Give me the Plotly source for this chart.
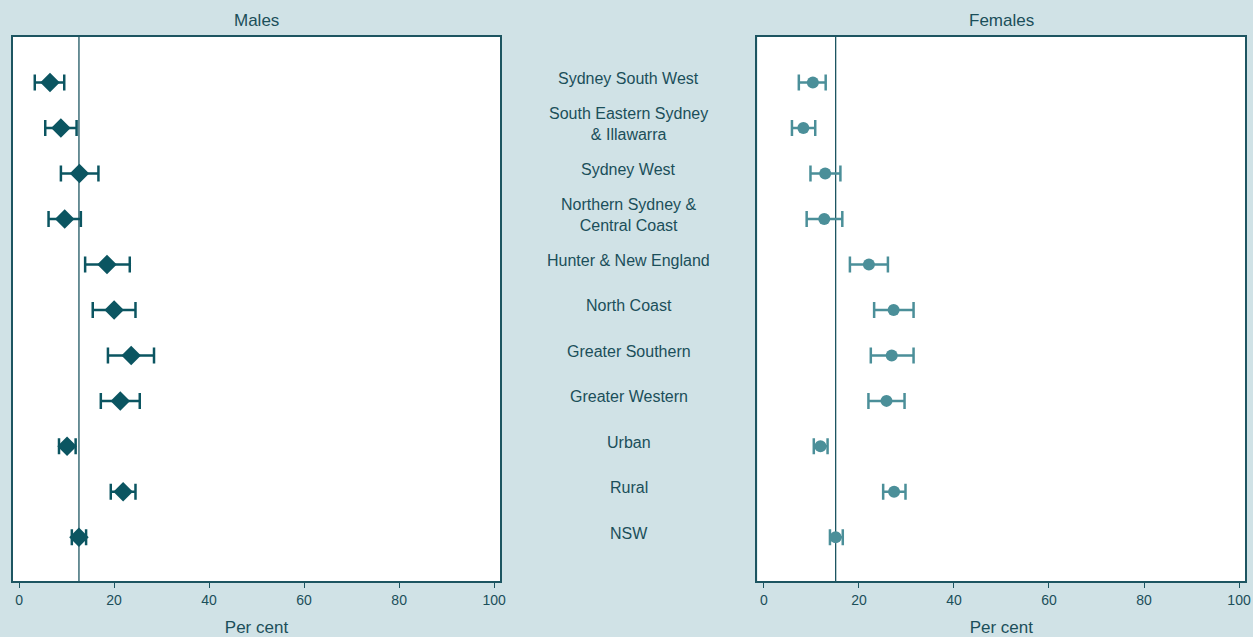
import plotly.graph_objects as go

regions = [
    "Sydney South West",
    "South Eastern Sydney<br>& Illawarra",
    "Sydney West",
    "Northern Sydney &<br>Central Coast",
    "Hunter & New England",
    "North Coast",
    "Greater Southern",
    "Greater Western",
    "Urban",
    "Rural",
    "NSW",
]

male_est = [6.5, 8.8, 12.7, 9.6, 18.5, 20.0, 23.6, 21.3, 10.1, 21.9, 12.6]
male_lo = [3.3, 5.5, 8.8, 6.2, 13.9, 15.5, 18.7, 17.2, 8.4, 19.3, 11.1]
male_hi = [9.5, 12.1, 16.7, 13.0, 23.3, 24.5, 28.4, 25.4, 11.9, 24.5, 14.1]

female_est = [10.3, 8.3, 12.9, 12.7, 22.1, 27.3, 26.9, 25.8, 11.9, 27.4, 15.1]
female_lo = [7.35, 5.9, 9.8, 9.0, 18.1, 23.2, 22.5, 22.0, 10.5, 25.1, 13.9]
female_hi = [13.0, 10.8, 16.1, 16.5, 26.1, 31.5, 31.5, 29.6, 13.4, 29.8, 16.6]

male_ref = 12.6
female_ref = 15.1

x_ticks = [0, 20, 40, 60, 80, 100]

BG = "#d0e2e6"
TXT = "#1b4f5a"
FRAME = "#1d5561"
MALE_C = "#0b5561"
FEMALE_C = "#4b8f99"
FONT = "Liberation Sans, Arial, sans-serif"

# horizontal layout in pixels, converted to paper fractions
PW = 1247.5
def px(p):
    return p / PW

rows = list(range(1, len(regions) + 1))

fig = go.Figure()

fig.add_trace(go.Scatter(
    x=male_est, y=rows, mode="markers", xaxis="x", yaxis="y",
    marker=dict(symbol="diamond", size=15, color=MALE_C),
    error_x=dict(
        type="data", symmetric=False,
        array=[h - e for h, e in zip(male_hi, male_est)],
        arrayminus=[e - l for e, l in zip(male_est, male_lo)],
        color=MALE_C, thickness=2.5, width=8,
    ),
    showlegend=False, name="Males",
))

fig.add_trace(go.Scatter(
    x=female_est, y=rows, mode="markers", xaxis="x2", yaxis="y2",
    marker=dict(symbol="circle", size=12, color=FEMALE_C),
    error_x=dict(
        type="data", symmetric=False,
        array=[h - e for h, e in zip(female_hi, female_est)],
        arrayminus=[e - l for e, l in zip(female_est, female_lo)],
        color=FEMALE_C, thickness=2.5, width=8,
    ),
    showlegend=False, name="Females",
))

# reference lines (overall rate)
fig.add_shape(type="line", xref="x", yref="y domain", x0=male_ref, x1=male_ref,
              y0=0, y1=1, line=dict(color=FRAME, width=1.3), layer="below")
fig.add_shape(type="line", xref="x2", yref="y2 domain", x0=female_ref, x1=female_ref,
              y0=0, y1=1, line=dict(color=FRAME, width=1.3), layer="below")

xaxis_common = dict(
    range=[-1.35, 101.3], tickvals=x_ticks, ticktext=[str(t) for t in x_ticks],
    ticks="outside", ticklen=5, tickwidth=1.3, tickcolor=FRAME,
    showline=True, linecolor=FRAME, linewidth=1.5, mirror=True,
    showgrid=False, zeroline=False,
    tickfont=dict(family=FONT, size=14, color=TXT),
    title=dict(text="Per cent", font=dict(family=FONT, size=17, color=TXT), standoff=15),
)
yaxis_common = dict(
    range=[11.96, 0.0], showticklabels=False, ticks="", showgrid=False,
    zeroline=False, showline=True, linecolor=FRAME, linewidth=1.5, mirror=True,
    domain=[1 - 581 / 637, 1 - 37 / 637],
)

fig.update_layout(
    width=1253, height=637,
    margin=dict(l=0, r=0, t=0, b=0),
    paper_bgcolor=BG, plot_bgcolor="white",
    xaxis=dict(domain=[px(12.7), px(500.5)], anchor="y", **xaxis_common),
    yaxis=dict(anchor="x", **yaxis_common),
    xaxis2=dict(domain=[px(757.8), px(1245.7)], anchor="y2", **xaxis_common),
    yaxis2=dict(anchor="x2", **yaxis_common),
    font=dict(family=FONT, color=TXT),
)

# panel titles
for txt, xc in [("Males", (12.7 + 500.5) / 2), ("Females", (757.8 + 1245.7) / 2)]:
    fig.add_annotation(text=txt, x=px(xc), y=1 - 21 / 637, xref="paper", yref="paper",
                       showarrow=False, font=dict(family=FONT, size=17, color=TXT),
                       xanchor="center", yanchor="middle")

# region labels between the panels
for r, name in zip(rows, regions):
    fig.add_annotation(text=name, x=px(629), y=r, xref="paper", yref="y",
                       showarrow=False, yshift=4,
                       font=dict(family=FONT, size=16, color=TXT),
                       xanchor="center", yanchor="middle", align="center")

fig.write_html("out.html")
